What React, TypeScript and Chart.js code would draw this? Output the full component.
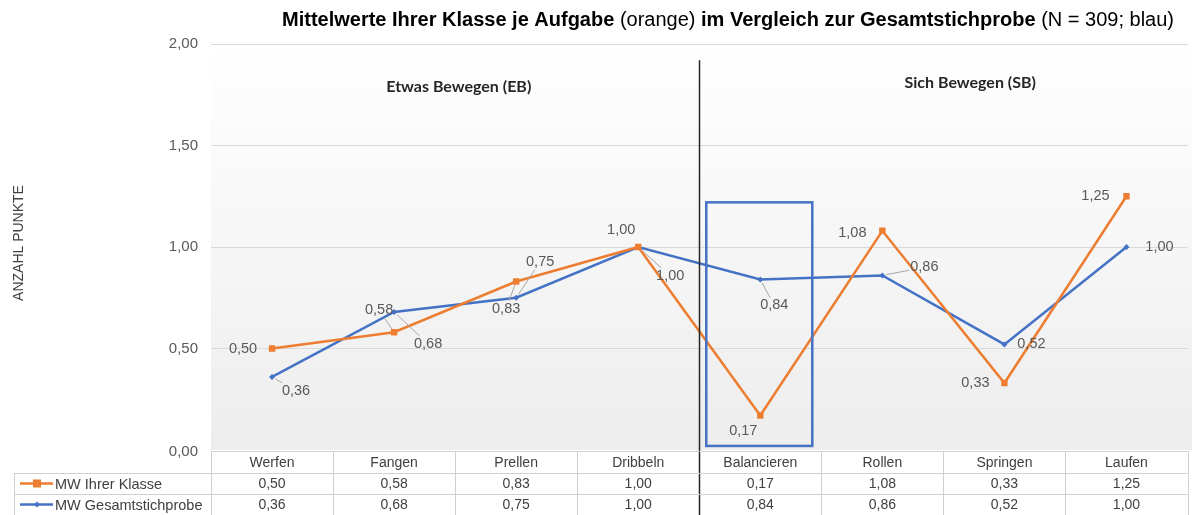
import React, { useEffect, useRef } from 'react';
import { Chart, registerables } from 'chart.js';

Chart.register(...registerables);

// ---------- data ----------
const categories = ['Werfen', 'Fangen', 'Prellen', 'Dribbeln', 'Balancieren', 'Rollen', 'Springen', 'Laufen'];
const klasseValues = [0.5, 0.58, 0.83, 1.0, 0.17, 1.08, 0.33, 1.25];
const gesamtValues = [0.36, 0.68, 0.75, 1.0, 0.84, 0.86, 0.52, 1.0];
const yTickValues = [0, 0.5, 1, 1.5, 2];
const seriesNames = ['MW Ihrer Klasse', 'MW Gesamtstichprobe'];
const sectionLabels = ['Etwas Bewegen (EB)', 'Sich Bewegen (SB)'];
const titleParts: [string, boolean][] = [
  ['Mittelwerte Ihrer Klasse je Aufgabe', true],
  [' (orange) ', false],
  ['im Vergleich zur Gesamtstichprobe', true],
  [' (N = 309; blau)', false],
];
const yAxisTitle = 'ANZAHL PUNKTE';

// label placement (pixel offsets from each point) and leader lines
const klasseLabelOffsets = [[-29, 0], [-15, -22], [-10, 27], [-17, -17], [-17, 16], [-30, 2], [-29, 0], [-31, 0]];
const klasseLeaders = [false, true, true, false, false, false, false, false];
const gesamtLabelOffsets = [[24, 14], [34, 32], [24, -36], [32, 29], [14, 26], [42, -8], [27, 0], [33, 0]];
const gesamtLeaders = [true, true, true, true, true, true, false, false];

const ORANGE = '#ED7D31';
const BLUE = '#4472C4';
const FONT = '"Liberation Sans", Arial, sans-serif';

const fmt = (v: number) => v.toFixed(2).replace('.', ',');

const decorPlugin = {
  id: 'decor',
  beforeDraw(chart: any) {
    const { ctx, chartArea } = chart;
    const g = ctx.createLinearGradient(0, chartArea.top, 0, chartArea.bottom);
    g.addColorStop(0, '#ffffff');
    g.addColorStop(1, '#ededed');
    ctx.save();
    ctx.fillStyle = g;
    ctx.fillRect(chartArea.left, chartArea.top, chart.width - chartArea.left, chartArea.bottom - chartArea.top);
    ctx.restore();
  },
  afterDatasetsDraw(chart: any) {
    const { ctx, chartArea } = chart;
    const xs = chart.scales.x;
    const ys = chart.scales.y;
    const half = (xs.getPixelForValue(1) - xs.getPixelForValue(0)) / 2;
    ctx.save();

    // vertical separator
    const sepX = Math.round((xs.getPixelForValue(3) + xs.getPixelForValue(4)) / 2) + 0.5;
    ctx.strokeStyle = '#262626';
    ctx.lineWidth = 1.5;
    ctx.beginPath();
    ctx.moveTo(sepX, ys.getPixelForValue(1.92));
    ctx.lineTo(sepX, chart.height);
    ctx.stroke();

    // highlight box
    const bx = xs.getPixelForValue(4);
    ctx.strokeStyle = BLUE;
    ctx.lineWidth = 2.5;
    const bTop = ys.getPixelForValue(1.22);
    const bBot = ys.getPixelForValue(0.02);
    ctx.strokeRect(bx - 54, bTop, 106, bBot - bTop);

    // data labels
    ctx.font = `14.5px ${FONT}`;
    ctx.textAlign = 'center';
    ctx.textBaseline = 'middle';
    const drawLabels = (vals: number[], offs: number[][], leaders: boolean[]) => {
      vals.forEach((v, i) => {
        const px = xs.getPixelForValue(i);
        const py = ys.getPixelForValue(v);
        const cx = px + offs[i][0];
        const cy = py + offs[i][1];
        const txt = fmt(v);
        if (leaders[i]) {
          const w = ctx.measureText(txt).width;
          const dx = cx - px;
          const dy = cy - py;
          const len = Math.hypot(dx, dy);
          const tx = Math.abs(dx) > 0 ? (w / 2 + 1) / Math.abs(dx) : 99;
          const ty = Math.abs(dy) > 0 ? 8 / Math.abs(dy) : 99;
          const t = 1 - Math.min(tx, ty);
          const s = 4 / len;
          if (t > s) {
            ctx.strokeStyle = '#a6a6a6';
            ctx.lineWidth = 1;
            ctx.beginPath();
            ctx.moveTo(px + dx * s, py + dy * s);
            ctx.lineTo(px + dx * t, py + dy * t);
            ctx.stroke();
          }
        }
        ctx.fillStyle = '#595959';
        ctx.fillText(txt, cx, cy);
      });
    };
    drawLabels(klasseValues, klasseLabelOffsets, klasseLeaders);
    drawLabels(gesamtValues, gesamtLabelOffsets, gesamtLeaders);

    // section labels
    ctx.font = `bold 16px Lato, "Open Sans", sans-serif`;
    ctx.fillStyle = '#262626';
    ctx.fillText(sectionLabels[0], xs.getPixelForValue(1.53), ys.getPixelForValue(1.79));
    ctx.fillText(sectionLabels[1], xs.getPixelForValue(5.72), ys.getPixelForValue(1.81));

    // title
    ctx.textAlign = 'left';
    ctx.textBaseline = 'alphabetic';
    const fonts = titleParts.map(([, b]) => `${b ? 'bold ' : ''}20px ${FONT}`);
    let total = 0;
    titleParts.forEach(([t], i) => {
      ctx.font = fonts[i];
      total += ctx.measureText(t).width;
    });
    let tx = 728 - total / 2;
    ctx.fillStyle = '#000000';
    titleParts.forEach(([t], i) => {
      ctx.font = fonts[i];
      ctx.fillText(t, tx, 26);
      tx += ctx.measureText(t).width;
    });

    // y axis title
    ctx.save();
    ctx.translate(19, 243);
    ctx.rotate(-Math.PI / 2);
    ctx.textAlign = 'center';
    ctx.textBaseline = 'middle';
    ctx.font = `14px ${FONT}`;
    ctx.fillStyle = '#404040';
    ctx.fillText(yAxisTitle, 0, 0);
    ctx.restore();

    // zero tick
    ctx.textAlign = 'right';
    ctx.textBaseline = 'middle';
    ctx.font = `15px ${FONT}`;
    ctx.fillStyle = '#595959';
    ctx.fillText(fmt(yTickValues[0]), 198, 452);

    // data table
    const top = 451;
    const r1 = 473;
    const r2 = 494;
    const bottom = 515;
    const left = chartArea.left;
    const right = chartArea.right;
    ctx.strokeStyle = '#d0d0d0';
    ctx.lineWidth = 1;
    ctx.beginPath();
    ctx.moveTo(left, top + 0.5); ctx.lineTo(right, top + 0.5);
    ctx.moveTo(14, r1 + 0.5); ctx.lineTo(right, r1 + 0.5);
    ctx.moveTo(14, r2 + 0.5); ctx.lineTo(right, r2 + 0.5);
    ctx.moveTo(14.5, r1); ctx.lineTo(14.5, bottom);
    for (let i = 0; i <= categories.length; i++) {
      const x = Math.round(xs.getPixelForValue(i) - half) + 0.5;
      if (i === 4) continue;
      ctx.moveTo(x, top); ctx.lineTo(x, bottom);
    }
    ctx.stroke();

    ctx.textAlign = 'center';
    ctx.fillStyle = '#404040';
    ctx.font = `14px ${FONT}`;
    categories.forEach((c, i) => {
      const x = xs.getPixelForValue(i);
      ctx.fillText(c, x, (top + r1) / 2 + 1);
      ctx.fillText(fmt(klasseValues[i]), x, (r1 + r2) / 2 + 1);
      ctx.fillText(fmt(gesamtValues[i]), x, (r2 + bottom) / 2 + 1);
    });

    // legend keys
    const keyY1 = (r1 + r2) / 2;
    const keyY2 = (r2 + bottom) / 2;
    ctx.lineWidth = 2.5;
    ctx.strokeStyle = ORANGE;
    ctx.beginPath(); ctx.moveTo(20, keyY1); ctx.lineTo(53, keyY1); ctx.stroke();
    ctx.fillStyle = ORANGE;
    ctx.fillRect(33, keyY1 - 4, 8, 8);
    ctx.strokeStyle = BLUE;
    ctx.beginPath(); ctx.moveTo(20, keyY2); ctx.lineTo(53, keyY2); ctx.stroke();
    ctx.fillStyle = BLUE;
    ctx.beginPath();
    ctx.moveTo(37, keyY2 - 3); ctx.lineTo(40, keyY2); ctx.lineTo(37, keyY2 + 3); ctx.lineTo(34, keyY2);
    ctx.closePath(); ctx.fill();
    ctx.textAlign = 'left';
    ctx.fillStyle = '#404040';
    ctx.font = `14.5px ${FONT}`;
    ctx.fillText(seriesNames[0], 55, keyY1 + 1);
    ctx.fillText(seriesNames[1], 55, keyY2 + 1);

    ctx.restore();
  },
};

export default function App() {
  const ref = useRef<HTMLCanvasElement>(null);
  useEffect(() => {
    document.body.style.margin = '0';
    const canvas = ref.current!;
    const chart = new Chart(canvas, {
      type: 'line',
      data: {
        labels: categories,
        datasets: [
          {
            label: seriesNames[0],
            data: klasseValues,
            borderColor: ORANGE,
            backgroundColor: ORANGE,
            borderWidth: 2.5,
            pointStyle: 'rect',
            pointRadius: 4.5,
            pointBorderWidth: 0,
            tension: 0,
          },
          {
            label: seriesNames[1],
            data: gesamtValues,
            borderColor: BLUE,
            backgroundColor: BLUE,
            borderWidth: 2.5,
            pointStyle: 'rectRot',
            pointRadius: 3,
            pointBorderWidth: 0,
            tension: 0,
          },
        ],
      },
      options: {
        responsive: false,
        animation: false,
        devicePixelRatio: 1,
        layout: { padding: { left: 0, top: 44, right: 2, bottom: 65 } },
        plugins: {
          legend: { display: false },
          tooltip: { enabled: false },
          title: { display: false },
        },
        scales: {
          x: {
            type: 'category',
            offset: true,
            display: false,
          },
          y: {
            min: 0,
            max: 2,
            afterFit: (s: any) => { s.width = 211; },
            afterBuildTicks: (s: any) => { s.ticks = yTickValues.map((v) => ({ value: v })); },
            border: { display: false },
            grid: {
              color: (c: any) => (c.tick && c.tick.value === 0 ? 'rgba(0,0,0,0)' : '#d9d9d9'),
              drawTicks: false,
              lineWidth: 1,
            },
            ticks: {
              padding: 13,
              color: '#595959',
              font: { family: FONT, size: 15 },
              callback: (v: any) => (v === 0 ? '' : fmt(Number(v))),
            },
          },
        },
      },
      plugins: [decorPlugin],
    });
    return () => chart.destroy();
  }, []);
  return <canvas ref={ref} width={1192} height={515} style={{ display: 'block', width: 1192, height: 515 }} />;
}
